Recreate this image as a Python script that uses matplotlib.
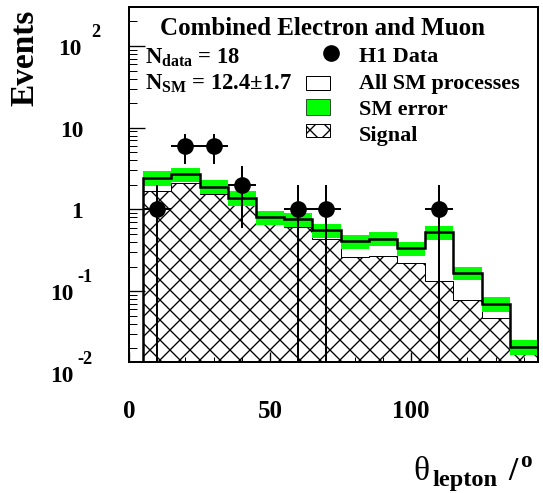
import numpy as np
import matplotlib.pyplot as plt
from matplotlib.patches import Rectangle
from matplotlib.lines import Line2D
from matplotlib.ticker import LogLocator, NullFormatter

# theta_lepton distribution, combined e + mu channels
bin_edges = [5, 15, 25, 35, 45, 55, 65, 75, 85, 95, 105, 115, 125, 135, 145]
sm_total = [2.44, 2.68, 1.90, 1.39, 0.81, 0.755, 0.553, 0.41, 0.44, 0.333,
            0.528, 0.168, 0.070, 0.0209]
sm_err = [0.48, 0.50, 0.37, 0.29, 0.16, 0.15, 0.11, 0.08, 0.085, 0.065,
          0.10, 0.032, 0.014, 0.0043]
signal = [1.68, 2.12, 1.53, 1.15, 0.687, 0.614, 0.43, 0.264, 0.273, 0.222,
          0.135, 0.0776, 0.0464, 0.0168]

data_x = [10, 20, 30, 40, 60, 70, 110]
data_n = [1, 6, 6, 2, 1, 1, 1]
data_xerr = 5

xtick_major = [0, 50, 100]
xtick_minor = [10, 20, 30, 40, 60, 70, 80, 90, 110, 120, 130, 140]
ytick_vals = [100, 10, 1, 0.1, 0.01]
ytick_base = ['10', '10', '1', '10', '10']
ytick_exp = ['2', '', '', '-1', '-2']

legend_labels = ['H1 Data', 'All SM processes', 'SM error', 'Signal']
title = 'Combined Electron and Muon'
n_data_text = r'$N_{data}$ = 18'
n_sm_text = r'$N_{SM}$ = 12.4±1.7'

W, H, DPI = 543, 494, 120
GREEN = '#00ff00'
HATCH = 'xx'

plt.rcParams['font.family'] = 'Liberation Serif'
plt.rcParams['font.weight'] = 'bold'
plt.rcParams['hatch.linewidth'] = 0.8
plt.rcParams['mathtext.fontset'] = 'custom'
plt.rcParams['mathtext.rm'] = 'Liberation Serif:bold'
plt.rcParams['mathtext.bf'] = 'Liberation Serif:bold'
plt.rcParams['mathtext.it'] = 'Liberation Serif:bold'
plt.rcParams['mathtext.default'] = 'bf'


def fxy(x, y):
    # pixel position -> figure fraction
    return x / W, 1 - y / H


fig = plt.figure(figsize=(W / DPI, H / DPI), dpi=DPI)
ax = fig.add_axes([129 / W, 1 - 363 / H, (538 - 129) / W, (363 - 8) / H])

sm = np.array(sm_total)
err = np.array(sm_err)

ax.stairs(signal, bin_edges, baseline=1e-4, fill=True, facecolor='white',
          edgecolor='black', hatch=HATCH, linewidth=0.6, zorder=1)
ax.stairs(sm + err, bin_edges, baseline=sm - err, fill=True, color=GREEN,
          linewidth=0, zorder=2)
ax.stairs(sm, bin_edges, baseline=1e-4, color='black', linewidth=1.5, zorder=3)
ax.errorbar(data_x, data_n, xerr=data_xerr, yerr=np.sqrt(data_n), fmt='o',
            color='black', ms=9, elinewidth=1.2, capsize=0, zorder=4)

ax.set_yscale('log')
ax.set_xlim(0, 145)
ax.set_ylim(0.0136, 300)
ax.set_axisbelow(False)

ax.set_xticks(xtick_major)
ax.set_xticks(xtick_minor, minor=True)
ax.set_xticklabels([str(v) for v in xtick_major], fontsize=15, fontweight='bold')
ax.yaxis.set_major_locator(LogLocator(base=10, numticks=10))
ax.yaxis.set_minor_locator(LogLocator(base=10, subs=range(2, 10), numticks=20))
ax.yaxis.set_major_formatter(NullFormatter())
ax.yaxis.set_minor_formatter(NullFormatter())
ax.tick_params(axis='x', which='major', direction='in', length=6, width=0.8, pad=22)
ax.tick_params(axis='x', which='minor', direction='in', length=3, width=0.6)
ax.tick_params(axis='y', which='major', direction='in', length=9.6, width=0.8)
ax.tick_params(axis='y', which='minor', direction='in', length=4.5, width=0.6)
for s in ax.spines.values():
    s.set_linewidth(1.2)

# log-axis labels drawn as 10 + raised exponent
for v, base, ex in zip(ytick_vals, ytick_base, ytick_exp):
    if ex == '':
        ax.annotate(base, xy=(83 / W, v), xycoords=('figure fraction', 'data'),
                    xytext=(0, -4.7), textcoords='offset points', ha='right',
                    va='baseline', fontsize=14, annotation_clip=False)
        continue
    bx = 73 if ex.startswith('-') else 82
    ax.annotate(base, xy=(bx / W, v), xycoords=('figure fraction', 'data'),
                xytext=(0, -4.7), textcoords='offset points', ha='right',
                va='baseline', fontsize=14, annotation_clip=False)
    ax.annotate(ex, xy=((bx + 4) / W if ex.startswith('-') else (bx + 9) / W, v),
                xycoords=('figure fraction', 'data'), xytext=(0, 5.9),
                textcoords='offset points', ha='left', va='baseline',
                fontsize=11, annotation_clip=False)

fig.text(*fxy(25, 58), 'Events', rotation=90, fontsize=20, ha='center', va='center')

# axis title: theta_lepton / deg
fig.text(*fxy(413, 480), 'θ', fontsize=20, fontweight='normal', ha='left', va='baseline')
fig.text(*fxy(432, 486), 'lepton', fontsize=14.6, ha='left', va='baseline')
fig.text(*fxy(508, 480), '/', fontsize=20, ha='left', va='baseline')
fig.text(*fxy(520, 467), 'o', fontsize=14, ha='left', va='baseline')

fig.text(*fxy(322, 35), title, fontsize=15, ha='center', va='baseline')
fig.text(*fxy(145, 64), n_data_text, fontsize=13.6, ha='left', va='baseline')
fig.text(*fxy(145, 90), n_sm_text, fontsize=13.6, ha='left', va='baseline')

# legend
fig.add_artist(Line2D([331 / W], [1 - 54 / H], marker='o', ms=9, color='black',
                      transform=fig.transFigure))
fig.add_artist(Rectangle(fxy(306, 91), 24 / W, 14 / H, facecolor='white',
                         edgecolor='black', linewidth=0.6, transform=fig.transFigure))
fig.add_artist(Rectangle(fxy(306, 116), 24 / W, 16 / H, facecolor=GREEN,
                         edgecolor='black', linewidth=0.4, transform=fig.transFigure))
fig.add_artist(Rectangle(fxy(306, 138), 24 / W, 13 / H, facecolor='white',
                         edgecolor='black', hatch=HATCH, linewidth=0.6,
                         transform=fig.transFigure))
for lab, yb in zip(legend_labels, [62, 89, 115, 141]):
    fig.text(*fxy(359, yb), lab, fontsize=13.3, ha='left', va='baseline')

fig.savefig('out.png', dpi=DPI)
